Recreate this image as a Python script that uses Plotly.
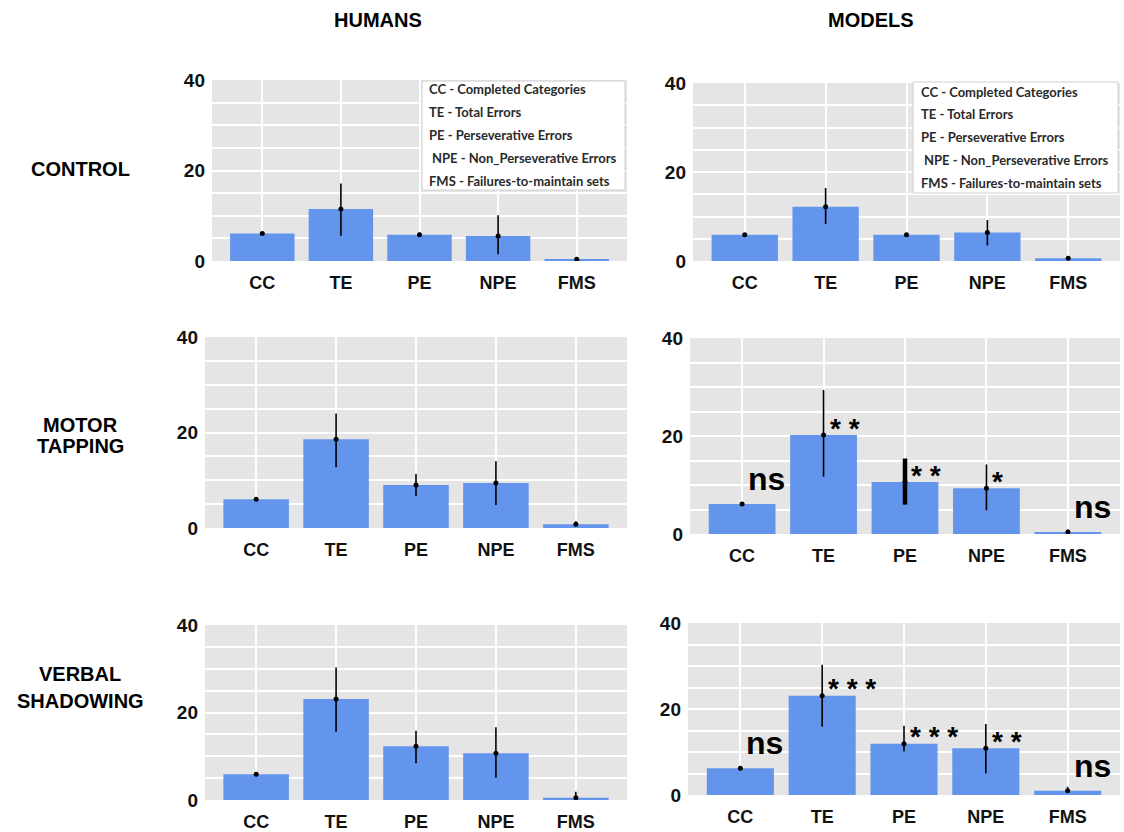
import plotly.graph_objects as go
from plotly.subplots import make_subplots

W, H = 1124, 832

categories = ["CC", "TE", "PE", "NPE", "FMS"]
column_titles = ["HUMANS", "MODELS"]
row_titles = [["CONTROL"], ["MOTOR", "TAPPING"], ["VERBAL", "SHADOWING"]]
legend_lines = [
    "CC - Completed Categories",
    "TE - Total Errors",
    "PE - Perseverative Errors",
    "NPE - Non_Perseverative Errors",
    "FMS - Failures-to-maintain sets",
]
y_ticks = [0, 20, 40]

humans_control = [6.1, 11.5, 5.8, 5.5, 0.4]
humans_control_up = [0.3, 5.6, 0.5, 4.6, 0.3]
humans_control_down = [0.3, 5.9, 0.5, 4.0, 0.3]

models_control = [5.9, 12.2, 5.9, 6.4, 0.6]
models_control_up = [0.3, 4.2, 0.3, 2.8, 0.2]
models_control_down = [0.3, 3.9, 0.3, 2.9, 0.2]

humans_motor = [6.0, 18.6, 9.0, 9.4, 0.8]
humans_motor_up = [0.2, 5.4, 2.3, 4.6, 0.6]
humans_motor_down = [0.2, 5.9, 2.3, 4.6, 0.4]

models_motor = [6.1, 20.2, 10.6, 9.35, 0.4]
models_motor_up = [0.2, 9.2, 4.8, 4.85, 0.5]
models_motor_down = [0.2, 8.5, 4.6, 4.5, 0.4]
models_motor_sig = ["ns", "* *", "* *", "*", "ns"]

humans_verbal = [5.9, 23.1, 12.3, 10.7, 0.5]
humans_verbal_up = [0.3, 7.2, 3.5, 5.9, 1.4]
humans_verbal_down = [0.3, 7.5, 3.9, 5.6, 0.5]

models_verbal = [6.2, 23.1, 11.9, 10.9, 1.0]
models_verbal_up = [0.3, 7.2, 4.2, 5.6, 0.9]
models_verbal_down = [0.3, 7.2, 1.8, 5.9, 0.5]
models_verbal_sig = ["ns", "* * *", "* * *", "* *", "ns"]

BAR = "#6495ED"
BG = "#E5E5E5"
FONT = "Liberation Sans, Arial, sans-serif"


def px_x(v):
    return v / W


def px_y(v):
    return 1 - v / H


# panel pixel boxes: (left, right, top, bottom)
panels = [
    dict(row=1, col=1, box=(212, 627, 80, 261), mean=humans_control, up=humans_control_up, down=humans_control_down, sig=None, thick=[]),
    dict(row=1, col=2, box=(693, 1120, 83, 261), mean=models_control, up=models_control_up, down=models_control_down, sig=None, thick=[]),
    dict(row=2, col=1, box=(205, 627, 337, 528), mean=humans_motor, up=humans_motor_up, down=humans_motor_down, sig=None, thick=[]),
    dict(row=2, col=2, box=(690, 1120, 338, 534), mean=models_motor, up=models_motor_up, down=models_motor_down, sig=models_motor_sig, thick=["PE"]),
    dict(row=3, col=1, box=(205, 627, 625, 800), mean=humans_verbal, up=humans_verbal_up, down=humans_verbal_down, sig=None, thick=[]),
    dict(row=3, col=2, box=(688, 1120, 623, 795), mean=models_verbal, up=models_verbal_up, down=models_verbal_down, sig=models_verbal_sig, thick=[]),
]

fig = make_subplots(rows=3, cols=2)

annotations = []
shapes = []

for i, p in enumerate(panels):
    r, c = p["row"], p["col"]
    fig.add_trace(go.Bar(x=categories, y=p["mean"], marker=dict(color=BAR, line=dict(width=0)),
                         width=0.82, showlegend=False, hoverinfo="x+y"), row=r, col=c)
    normal = [k for k, cat in enumerate(categories) if cat not in p["thick"]]
    thick = [k for k, cat in enumerate(categories) if cat in p["thick"]]
    for idx, th in ((normal, 1.6), (thick, 4.5)):
        if not idx:
            continue
        fig.add_trace(go.Scatter(
            x=[categories[k] for k in idx], y=[p["mean"][k] for k in idx], mode="markers",
            marker=dict(color="black", size=5),
            error_y=dict(type="data", symmetric=False, array=[p["up"][k] for k in idx],
                         arrayminus=[p["down"][k] for k in idx], color="black", thickness=th, width=0),
            showlegend=False), row=r, col=c)
    L, R, T, B = p["box"]
    axn = "" if i == 0 else str(i + 1)
    fig.layout["xaxis" + axn].update(
        domain=[px_x(L), px_x(R)], range=[-0.64, 4.64], type="category", automargin=False,
        showgrid=True, gridcolor="white", gridwidth=1.5, ticks="", ticklabelstandoff=9,
        tickfont=dict(family=FONT, size=18, color="#111", weight="bold"), showline=False, zeroline=False)
    fig.layout["yaxis" + axn].update(
        domain=[px_y(B), px_y(T)], range=[0, 40], tickvals=y_ticks, automargin=False,
        showgrid=True, gridcolor="white", gridwidth=1.5, zeroline=False, ticks="", ticklabelstandoff=6,
        minor=dict(dtick=5, showgrid=True, gridcolor="white", gridwidth=1.5),
        tickfont=dict(family=FONT, size=19, color="#111", weight="bold"))
    if p["sig"]:
        xr = "x" + axn
        yr = "y" + axn
        for k, s in enumerate(p["sig"]):
            is_ns = s == "ns"
            annotations.append(dict(
                x=categories[k], y=p["mean"][k], xref=xr, yref=yr, text=s, showarrow=False,
                xanchor="left", yanchor="middle", xshift=4 if is_ns else 4,
                yshift=25 if is_ns else 7,
                font=dict(family=FONT, size=32 if is_ns else 28, color="black", weight="bold")))

# column titles
for c, t in enumerate(column_titles):
    annotations.append(dict(x=px_x([378, 871][c]), y=px_y(20), xref="paper", yref="paper", text=t,
                            showarrow=False, xanchor="center", yanchor="middle",
                            font=dict(family=FONT, size=20, color="black", weight="bold")))

# row titles
row_line_y = [[169], [425, 446], [674, 701]]
for r, lines in enumerate(row_titles):
    for j, t in enumerate(lines):
        annotations.append(dict(x=px_x(80), y=px_y(row_line_y[r][j]), xref="paper", yref="paper", text=t,
                                showarrow=False, xanchor="center", yanchor="middle",
                                font=dict(family=FONT, size=20, color="black", weight="bold")))

# legend boxes in the control row
legend_boxes = [dict(box=(422, 625, 81, 190), left=427, ys=[89, 112, 135, 158, 181]),
                dict(box=(913, 1118, 82, 193), left=919, ys=[92, 114, 137, 160, 183])]
for lb in legend_boxes:
    L, R, T, B = lb["box"]
    shapes.append(dict(type="rect", xref="paper", yref="paper", x0=px_x(L), x1=px_x(R), y0=px_y(B), y1=px_y(T),
                       fillcolor="white", line=dict(color="#d0d0d0", width=1), layer="above"))
    for j, t in enumerate(legend_lines):
        annotations.append(dict(x=px_x(lb["left"] + (3 if j == 3 else 0)), y=px_y(lb["ys"][j]), xref="paper", yref="paper",
                                text=t, showarrow=False, xanchor="left", yanchor="middle",
                                font=dict(family="Lato, Open Sans, sans-serif", size=13, color="#2a2a2a", weight="bold")))

fig.update_layout(width=W, height=H, margin=dict(l=0, r=0, t=0, b=0, autoexpand=False),
                  paper_bgcolor="white", plot_bgcolor=BG, bargap=0.18,
                  annotations=annotations, shapes=shapes, showlegend=False)

fig.write_html("out.html", config={"displayModeBar": False},
               post_script="document.body.style.margin='0';document.body.style.overflow='hidden';")
